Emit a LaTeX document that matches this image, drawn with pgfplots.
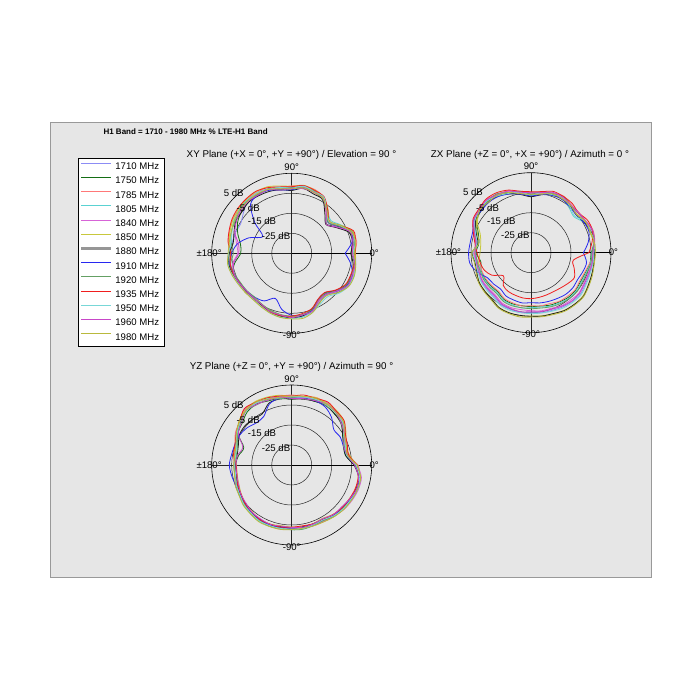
\documentclass[border=0pt]{standalone}
\usepackage{fontspec}
\setmainfont{Liberation Sans}
\usepackage{pgfplots}
\pgfplotsset{compat=1.18}
\usepgfplotslibrary{polar}
\usepackage{pgfplotstable}

\definecolor{panel}{RGB}{230,230,230}
\definecolor{colA}{RGB}{140,140,245}
\definecolor{colB}{RGB}{20,110,20}
\definecolor{colC}{RGB}{255,120,120}
\definecolor{colD}{RGB}{90,210,210}
\definecolor{colE}{RGB}{215,100,215}
\definecolor{colF}{RGB}{200,200,60}
\definecolor{colG}{RGB}{150,150,150}
\definecolor{colGp}{RGB}{30,30,30}
\definecolor{colH}{RGB}{40,40,240}
\definecolor{colI}{RGB}{100,160,100}
\definecolor{colJ}{RGB}{240,30,30}
\definecolor{colK}{RGB}{120,215,215}
\definecolor{colL}{RGB}{200,70,200}
\definecolor{colM}{RGB}{185,185,60}

% XY plane, dB values
\pgfplotstableread{
a s1 s2 s3 s4 s5 s6 s7 s8 s9 s10 s11 s12 s13
0 -3.2 -5.0 -3.6 -3.7 -4.9 -3.1 -5.5 -8.3 -4.0 -3.4 -4.3 -4.6 -3.9
10 -3.3 -3.6 -2.0 -3.5 -3.4 -3.0 -4.1 -4.5 -3.2 -2.6 -2.7 -4.3 -2.5
20 -2.7 -4.0 -2.9 -3.0 -3.8 -2.5 -4.5 -3.2 -3.1 -2.1 -3.5 -3.6 -3.3
30 -7.8 -8.2 -7.4 -6.6 -8.8 -6.9 -9.3 -7.9 -7.8 -7.2 -7.2 -8.9 -7.0
40 -10.4 -12.3 -10.6 -9.5 -11.2 -10.9 -12.6 -11.2 -11.1 -10.3 -10.5 -12.4 -10.3
50 -7.7 -8.0 -7.3 -7.0 -8.4 -6.6 -9.2 -7.6 -7.6 -6.9 -7.8 -8.0 -7.6
60 -2.6 -4.1 -2.8 -3.4 -3.2 -3.0 -4.0 -3.4 -3.8 -2.5 -2.7 -3.6 -3.4
70 -2.1 -2.4 -1.1 -1.7 -2.8 -1.4 -3.4 -2.4 -2.0 -1.5 -2.3 -2.5 -2.6
80 -0.7 -2.1 -0.9 -1.4 -1.3 -0.5 -2.0 -1.9 -1.8 -0.6 -0.9 -2.2 -1.8
90 -2.2 -2.5 -1.3 -2.4 -2.9 -1.5 -3.6 -3.2 -2.2 -1.7 -2.5 -2.6 -2.8
100 -1.3 -2.9 -1.6 -1.5 -2.0 -0.8 -2.7 -2.9 -2.5 -1.3 -1.6 -2.9 -2.2
110 -0.7 -1.0 0.2 -0.9 -1.4 0.4 -2.1 -1.5 -0.7 -0.1 -1.0 -1.1 -1.0
120 0.1 -1.3 0.0 -0.6 -0.5 0.6 -1.8 -1.2 -1.0 0.8 -0.1 -1.4 -0.6
130 -0.6 -1.6 0.2 -0.3 -1.4 0.3 -1.5 -3.0 -0.7 0.5 -1.0 -1.1 -0.8
140 -3.5 -2.3 -0.9 -0.8 -1.9 -0.3 -2.6 -10.8 -1.2 0.1 -1.5 -1.6 -1.2
150 -5.5 -3.8 -1.0 -2.1 -2.8 -1.2 -2.7 -18.3 -2.5 -0.6 -1.6 -3.1 -1.9
160 -5.0 -6.3 -2.0 -3.1 -4.8 -2.2 -4.3 -12.3 -2.9 -1.7 -3.2 -4.7 -2.9
170 -4.8 -9.0 -2.9 -4.1 -7.0 -3.2 -5.3 -7.5 -4.3 -2.7 -4.2 -8.0 -3.3
180 -3.5 -9.5 -4.2 -3.7 -8.0 -4.3 -3.8 -5.0 -5.8 -4.5 -3.4 -8.5 -3.2
190 -3.4 -6.0 -3.5 -3.0 -5.0 -3.6 -3.1 -3.6 -4.0 -3.8 -2.7 -5.5 -2.5
200 -4.1 -3.6 -3.8 -3.6 -4.6 -4.2 -3.7 -4.4 -4.6 -4.0 -3.5 -4.3 -3.2
210 -4.4 -4.9 -4.8 -4.8 -5.4 -5.4 -4.7 -5.2 -5.5 -5.0 -4.4 -4.9 -4.1
220 -5.5 -4.7 -4.9 -4.9 -5.3 -5.5 -5.2 -5.7 -5.8 -4.9 -4.8 -5.6 -4.6
230 -5.2 -5.6 -5.5 -5.4 -6.1 -5.9 -5.4 -6.3 -6.3 -5.2 -5.1 -5.6 -4.8
240 -5.2 -4.3 -4.6 -4.6 -4.9 -5.4 -4.9 -7.5 -5.5 -4.6 -4.5 -5.3 -4.2
250 -3.9 -4.1 -3.7 -3.7 -4.4 -4.3 -3.8 -11.0 -4.6 -3.6 -3.3 -3.9 -3.2
260 -3.4 -2.7 -3.4 -3.0 -3.2 -3.6 -3.0 -6.5 -3.9 -3.3 -2.7 -3.7 -2.4
270 -2.5 -2.9 -3.2 -2.7 -3.5 -3.3 -2.8 -4.0 -3.6 -3.6 -2.4 -2.8 -2.2
280 -3.3 -2.8 -3.5 -2.9 -3.2 -3.6 -3.2 -3.7 -3.9 -4.4 -2.7 -3.7 -2.0
290 -4.0 -4.6 -4.7 -4.1 -4.4 -4.8 -5.3 -4.8 -5.1 -5.6 -3.9 -4.3 -3.7
300 -7.6 -6.8 -7.7 -7.2 -7.4 -7.8 -8.4 -8.2 -8.1 -8.6 -6.0 -7.9 -6.7
310 -7.8 -8.3 -8.5 -8.0 -8.2 -8.6 -9.2 -8.8 -8.9 -9.4 -6.8 -8.1 -7.5
320 -5.4 -4.7 -5.5 -5.0 -5.2 -5.6 -6.1 -5.6 -5.9 -6.4 -4.0 -5.7 -4.5
330 -2.3 -2.8 -3.0 -2.5 -2.7 -3.1 -3.6 -3.1 -3.4 -3.9 -2.2 -2.6 -2.0
340 -2.6 -1.9 -2.7 -2.2 -2.4 -2.8 -3.3 -2.8 -3.1 -3.6 -1.9 -2.9 -1.7
350 -2.5 -3.0 -2.7 -2.8 -2.9 -2.9 -3.8 -5.0 -3.3 -3.3 -2.7 -2.8 -2.5
360 -3.2 -5.0 -3.6 -3.7 -4.9 -3.1 -5.5 -8.3 -4.0 -3.4 -4.3 -4.6 -3.9
}\xytab

% ZX plane, dB values
\pgfplotstableread{
a s1 s2 s3 s4 s5 s6 s7 s8 s9 s10 s11 s12 s13
0 -3.8 -4.8 -3.5 -4.6 -4.0 -3.4 -3.3 -8.8 -4.5 -6.0 -3.5 -4.1 -2.6
10 -3.0 -3.1 -2.6 -2.9 -3.2 -3.3 -2.8 -6.0 -2.9 -4.0 -2.8 -2.8 -3.0
20 -2.4 -3.7 -2.0 -3.5 -2.6 -3.9 -3.2 -4.2 -2.3 -2.3 -3.4 -2.2 -3.6
30 -3.7 -3.8 -3.3 -4.6 -3.3 -4.0 -4.5 -4.5 -3.6 -2.4 -3.5 -3.5 -3.7
40 -4.1 -5.4 -3.7 -7.0 -4.9 -5.0 -5.5 -5.5 -4.0 -4.0 -6.5 -3.9 -5.3
50 -4.2 -4.3 -3.8 -5.5 -3.8 -5.1 -4.4 -5.0 -4.1 -2.9 -4.8 -4.0 -4.2
60 -2.7 -4.0 -2.3 -3.8 -3.5 -3.6 -4.1 -4.1 -2.6 -2.6 -3.1 -3.1 -3.9
70 -3.7 -3.8 -3.3 -3.6 -3.3 -4.6 -3.9 -4.5 -3.6 -2.4 -4.1 -2.9 -3.7
80 -4.1 -5.4 -4.3 -4.6 -4.9 -5.0 -5.6 -5.5 -4.0 -4.0 -4.5 -4.5 -5.3
90 -5.8 -5.9 -4.8 -6.3 -5.4 -6.7 -7.0 -6.6 -5.7 -4.5 -6.2 -5.0 -5.8
100 -3.9 -5.2 -4.1 -4.4 -4.7 -4.8 -5.5 -5.3 -3.8 -3.8 -4.3 -4.3 -5.1
110 -3.0 -3.1 -2.0 -3.5 -2.6 -3.9 -3.5 -3.8 -2.9 -1.7 -3.4 -2.2 -3.0
120 -1.1 -2.4 -1.3 -1.6 -1.9 -2.0 -2.2 -2.5 -1.0 -0.4 -2.1 -1.5 -1.7
130 -1.3 -1.4 -0.3 -1.8 -0.9 -2.2 -1.8 -2.1 -1.2 0.0 -1.1 -0.5 -1.9
140 -1.1 -2.4 -1.3 -1.6 -1.9 -2.0 -2.2 -2.5 -1.6 -1.0 -1.5 -1.5 -1.7
150 -2.2 -3.5 -1.8 -3.0 -2.4 -4.0 -3.0 -2.0 -2.1 -1.5 -2.6 -2.0 -3.5
160 -5.0 -7.0 -4.6 -6.0 -5.2 -8.0 -5.8 -4.0 -4.9 -4.3 -5.4 -4.8 -6.5
170 -7.2 -8.5 -6.8 -8.0 -7.4 -9.5 -8.0 -4.2 -7.1 -6.5 -7.6 -7.0 -8.5
180 -6.8 -7.5 -6.6 -7.2 -6.2 -9.5 -5.6 -3.8 -7.4 -8.0 -5.9 -7.0 -5.4
190 -7.1 -9.5 -8.2 -7.9 -7.4 -8.5 -6.6 -4.0 -7.7 -9.0 -7.0 -7.3 -6.3
200 -7.0 -8.5 -8.8 -8.3 -7.5 -6.2 -6.1 -6.5 -8.0 -10.0 -6.8 -7.3 -5.8
210 -6.4 -8.5 -8.9 -8.2 -7.1 -5.2 -5.1 -9.9 -7.8 -12.5 -6.1 -6.8 -4.8
220 -6.4 -9.0 -9.4 -8.5 -7.3 -5.0 -4.9 -10.6 -8.1 -17.0 -6.0 -6.8 -4.5
230 -6.3 -9.3 -9.8 -8.8 -7.3 -4.6 -4.5 -11.3 -8.3 -13.5 -5.8 -6.8 -4.1
240 -5.0 -8.0 -8.5 -7.5 -6.0 -3.3 -3.2 -10.0 -7.0 -12.5 -4.5 -5.5 -2.8
250 -4.8 -7.8 -8.3 -7.3 -5.8 -3.1 -3.0 -9.8 -6.8 -12.3 -4.3 -5.3 -2.6
260 -4.6 -8.1 -8.0 -7.0 -6.1 -2.9 -3.2 -9.5 -7.1 -12.0 -4.6 -5.0 -2.4
270 -5.0 -8.0 -8.5 -7.5 -6.0 -3.3 -3.2 -10.0 -7.0 -12.0 -4.5 -5.5 -2.8
280 -4.5 -7.9 -8.0 -7.4 -5.5 -3.0 -2.8 -9.5 -6.9 -12.3 -4.4 -5.1 -2.5
290 -4.3 -7.1 -7.9 -6.6 -5.4 -2.5 -2.6 -9.1 -6.2 -12.5 -3.9 -4.9 -2.1
300 -3.6 -6.6 -6.9 -6.1 -4.4 -1.8 -1.6 -8.6 -5.6 -12.5 -3.0 -4.1 -1.2
310 -3.1 -5.9 -6.6 -5.4 -4.1 -1.2 -1.3 -7.9 -5.1 -12.0 -2.6 -3.4 -0.9
320 -2.8 -5.9 -6.2 -5.4 -3.7 -1.2 -0.9 -7.7 -4.9 -11.0 -2.3 -3.4 -0.7
330 -3.6 -6.3 -6.8 -5.9 -4.5 -2.1 -2.0 -8.1 -5.4 -10.0 -3.2 -4.1 -1.6
340 -3.9 -6.0 -6.4 -5.7 -4.6 -2.7 -2.7 -7.4 -5.3 -12.0 -3.6 -4.3 -2.3
350 -3.8 -5.0 -5.2 -4.8 -4.2 -3.1 -3.1 -6.8 -4.6 -13.5 -3.6 -4.0 -2.9
360 -3.8 -4.8 -3.5 -4.6 -4.0 -3.4 -3.3 -8.8 -4.5 -6.0 -3.5 -4.1 -2.6
}\zxtab

% YZ plane, dB values
\pgfplotstableread{
a s1 s2 s3 s4 s5 s6 s7 s8 s9 s10 s11 s12 s13
0 -2.8 -3.3 -1.8 -3.1 -2.1 -2.5 -3.8 -3.3 -3.1 -2.3 -2.7 -3.5 -2.3
10 -6.0 -7.7 -6.2 -6.3 -6.5 -5.7 -7.6 -7.1 -6.9 -6.1 -7.1 -6.7 -6.7
20 -6.5 -7.0 -5.5 -6.8 -5.8 -6.2 -7.5 -7.5 -7.4 -5.4 -6.4 -7.2 -6.0
30 -3.9 -5.6 -4.1 -4.2 -4.4 -3.6 -5.5 -7.0 -4.8 -4.0 -5.0 -4.6 -4.6
40 -1.8 -2.3 -1.4 -1.5 -1.7 -0.9 -2.8 -7.5 -2.7 -0.7 -1.7 -2.5 -1.3
50 0.0 -1.7 -0.2 -0.3 -0.5 0.3 -1.6 -4.0 -0.9 -0.1 -1.1 -0.7 -0.7
60 0.2 -0.3 0.6 0.5 0.9 0.5 -0.8 -1.5 -0.7 1.3 -0.3 0.1 0.1
70 0.5 -1.2 0.9 -0.4 0.0 0.8 -1.1 -0.8 -0.4 0.4 0.0 -0.8 0.4
80 -0.6 -1.1 -0.2 -0.3 -0.5 -0.3 -1.6 -1.1 -1.5 0.5 -0.5 -1.3 -0.1
90 -0.4 -2.1 0.0 -1.3 -0.3 -0.7 -2.0 -1.5 -1.3 -0.5 -0.9 -1.7 -0.5
100 -0.5 -1.0 -0.1 -0.2 -0.4 0.4 -1.5 -1.0 -1.4 0.0 -1.0 -0.6 -0.6
110 0.8 -0.9 0.6 0.5 0.3 1.1 -2.0 -2.5 -0.1 0.7 0.3 -0.5 0.1
120 0.7 0.2 1.1 1.0 0.8 1.6 -5.5 -7.0 -0.2 1.2 0.8 0.0 1.2
130 1.3 -0.4 1.7 0.4 1.4 1.0 -5.0 -7.5 0.4 1.8 0.2 0.6 0.6
140 -0.9 -2.6 -1.1 -1.2 -1.4 -0.6 -4.5 -6.0 -1.8 -1.0 -1.4 -2.2 -1.0
150 -3.5 -4.0 -2.5 -3.8 -2.8 -3.2 -4.8 -5.0 -3.8 -3.0 -3.4 -4.2 -3.0
160 -5.3 -9.5 -4.9 -5.6 -5.2 -5.0 -6.6 -4.8 -6.2 -4.8 -5.8 -9.0 -5.4
170 -6.0 -8.0 -5.6 -6.3 -5.9 -5.7 -7.3 -4.5 -6.9 -5.5 -6.5 -7.5 -6.1
180 -6.4 -6.8 -6.2 -6.3 -6.5 -7.3 -7.0 -3.8 -6.1 -7.2 -6.5 -7.1 -6.0
190 -6.4 -6.8 -6.2 -6.3 -6.5 -7.3 -7.0 -4.5 -6.1 -7.2 -6.5 -7.1 -6.0
200 -5.4 -6.4 -5.2 -5.9 -5.5 -6.9 -6.3 -5.2 -5.7 -6.2 -5.5 -6.7 -5.0
210 -5.0 -5.4 -4.8 -4.9 -5.1 -5.9 -5.6 -5.0 -4.7 -5.8 -5.1 -5.7 -4.6
220 -4.5 -4.3 -4.3 -3.8 -4.6 -4.8 -4.8 -4.3 -4.2 -4.7 -4.0 -5.2 -3.5
230 -3.4 -3.8 -3.2 -3.3 -3.5 -4.3 -4.0 -3.7 -3.1 -4.2 -3.5 -4.1 -3.0
240 -3.2 -3.0 -3.0 -2.5 -3.3 -3.5 -3.5 -3.2 -2.9 -3.4 -2.7 -3.9 -2.2
250 -2.7 -3.1 -2.5 -2.6 -2.8 -3.6 -3.3 -3.0 -2.4 -3.5 -2.8 -3.4 -2.3
260 -2.7 -3.7 -2.5 -3.2 -2.8 -4.2 -3.6 -3.3 -3.0 -3.5 -2.8 -4.0 -2.3
270 -3.1 -3.2 -2.9 -2.7 -3.2 -4.0 -3.5 -3.5 -2.6 -3.9 -3.0 -3.8 -2.7
280 -3.3 -3.1 -3.1 -2.6 -3.4 -3.6 -3.6 -3.3 -2.4 -4.1 -2.8 -3.4 -2.9
290 -3.1 -3.5 -2.7 -3.0 -3.2 -3.8 -3.7 -3.2 -2.8 -3.7 -3.2 -3.6 -2.7
300 -2.7 -3.7 -2.5 -3.2 -2.8 -4.2 -3.6 -3.3 -3.0 -3.5 -3.4 -4.0 -2.3
310 -1.9 -2.3 -1.7 -1.8 -2.0 -2.8 -2.5 -2.2 -1.6 -2.7 -2.0 -2.6 -1.5
320 -1.7 -1.5 -0.9 -1.6 -0.7 -2.0 -2.0 -1.7 -1.4 -1.9 -1.2 -2.4 -0.7
330 -0.7 -1.1 -0.5 -0.6 0.0 -1.6 -1.3 -1.0 -0.4 -1.5 -0.8 -1.4 -0.3
340 0.3 -0.7 -0.1 0.4 0.5 -0.6 -0.6 -0.3 0.0 -1.1 0.2 -0.4 0.1
350 -0.4 -0.8 -0.2 -0.3 0.4 -1.3 -1.0 -0.7 -0.1 -1.2 -0.5 -1.1 0.0
360 -2.8 -3.3 -1.8 -3.1 -2.1 -2.5 -3.8 -3.3 -3.1 -2.3 -2.7 -3.5 -2.3
}\yztab

\newcommand{\fs}{\fontsize{9.6}{11}\selectfont}

\pgfplotsset{pp/.style={
  scale only axis, width=160pt, height=160pt,
  ymin=0, ymax=40,
  xtick={0,90,180,270}, ytick={10,20,30},
  xticklabels={}, yticklabels={},
  grid=major, major grid style={black!85, line width=0.5pt},
  axis line style={black, line width=0.6pt},
  major tick length=0pt, clip=false, anchor=center,
  font=\fs,
  every axis plot/.append style={line width=0.8pt, smooth, forget plot}
}}

\newcommand{\plotall}[1]{%
  \addplot[draw=colA] table[x=a, y expr=\thisrow{s1}+35] {#1};
  \addplot[draw=colB] table[x=a, y expr=\thisrow{s2}+35] {#1};
  \addplot[draw=colC] table[x=a, y expr=\thisrow{s3}+35] {#1};
  \addplot[draw=colD] table[x=a, y expr=\thisrow{s4}+35] {#1};
  \addplot[draw=colE] table[x=a, y expr=\thisrow{s5}+35] {#1};
  \addplot[draw=colF] table[x=a, y expr=\thisrow{s6}+35] {#1};
  \addplot[draw=colGp] table[x=a, y expr=\thisrow{s7}+35] {#1};
  \addplot[draw=colH] table[x=a, y expr=\thisrow{s8}+35] {#1};
  \addplot[draw=colI] table[x=a, y expr=\thisrow{s9}+35] {#1};
  \addplot[draw=colJ] table[x=a, y expr=\thisrow{s10}+35] {#1};
  \addplot[draw=colK] table[x=a, y expr=\thisrow{s11}+35] {#1};
  \addplot[draw=colL] table[x=a, y expr=\thisrow{s12}+35] {#1};
  \addplot[draw=colM] table[x=a, y expr=\thisrow{s13}+35] {#1};
}
\newcommand{\polarlabels}{%
  \node[font=\fs] at (axis cs:90,43) {90°};
  \node[font=\fs] at (axis cs:270,40.9) {-90°};
  \node[font=\fs] at (axis cs:0,41.2) {0°};
  \node[font=\fs] at (axis cs:180,41.3) {±180°};
  \node[font=\fs] at (axis cs:134,41.8) {5 dB};
  \node[font=\fs] at (axis cs:134,31.3) {-5 dB};
  \node[font=\fs] at (axis cs:133,21.8) {-15 dB};
  \node[font=\fs] at (axis cs:132,11.7) {-25 dB};
}
\newcommand{\limg}[2]{\addlegendimage{legend image code/.code={\draw[draw=#1, line width=#2] (0pt,3.4pt) -- (30pt,3.4pt);}}}

\begin{document}
\begin{tikzpicture}[font=\fs]
\fill[white] (0pt,0pt) rectangle (700pt,700pt);
\filldraw[fill=panel, draw=black!40, line width=0.6pt] (50pt,123pt) rectangle (651pt,578pt);

\node[anchor=west, font=\fontsize{8}{9}\selectfont\bfseries] at (100pt,568pt) {H1 Band = 1710 - 1980 MHz \% LTE-H1 Band};
\node[font=\fontsize{9.8}{11}\selectfont] at (291.5pt,545pt) {XY Plane (+X = 0°, +Y = +90°) / Elevation = 90 °};
\node[font=\fontsize{9.8}{11}\selectfont] at (530pt,545pt) {ZX Plane (+Z = 0°, +X = +90°) / Azimuth = 0 °};
\node[font=\fontsize{9.8}{11}\selectfont] at (291.5pt,333pt) {YZ Plane (+Z = 0°, +Y = +90°) / Azimuth = 90 °};

\begin{polaraxis}[pp, at={(291.7pt,446.7pt)}]
  \plotall{\xytab}
  \polarlabels
\end{polaraxis}

\begin{polaraxis}[pp, at={(531pt,447.3pt)}]
  \plotall{\zxtab}
  \polarlabels
\end{polaraxis}

\begin{polaraxis}[pp, at={(291.7pt,235pt)}]
  \plotall{\yztab}
  \polarlabels
\end{polaraxis}

\begin{axis}[hide axis, scale only axis, width=88pt, height=188pt,
  at={(78pt,542pt)}, anchor=north west, xmin=0, xmax=1, ymin=0, ymax=1,
  legend cell align=left,
  legend style={at={(0,1)}, anchor=north west, draw=black, fill=white,
    font=\fs, inner xsep=2pt, inner ysep=1.5pt,
    nodes={inner xsep=3pt, inner ysep=3pt, text height=7pt, text depth=1.2pt}}]
  \limg{colA}{1pt}
  \limg{colB}{1pt}
  \limg{colC}{1pt}
  \limg{colD}{1pt}
  \limg{colE}{1pt}
  \limg{colF}{1pt}
  \limg{colG}{2.2pt}
  \limg{colH}{1pt}
  \limg{colI}{1pt}
  \limg{colJ}{1pt}
  \limg{colK}{1pt}
  \limg{colL}{1pt}
  \limg{colM}{1pt}
  \legend{1710 MHz, 1750 MHz, 1785 MHz, 1805 MHz, 1840 MHz, 1850 MHz, 1880 MHz, 1910 MHz, 1920 MHz, 1935 MHz, 1950 MHz, 1960 MHz, 1980 MHz}
\end{axis}
\end{tikzpicture}
\end{document}
